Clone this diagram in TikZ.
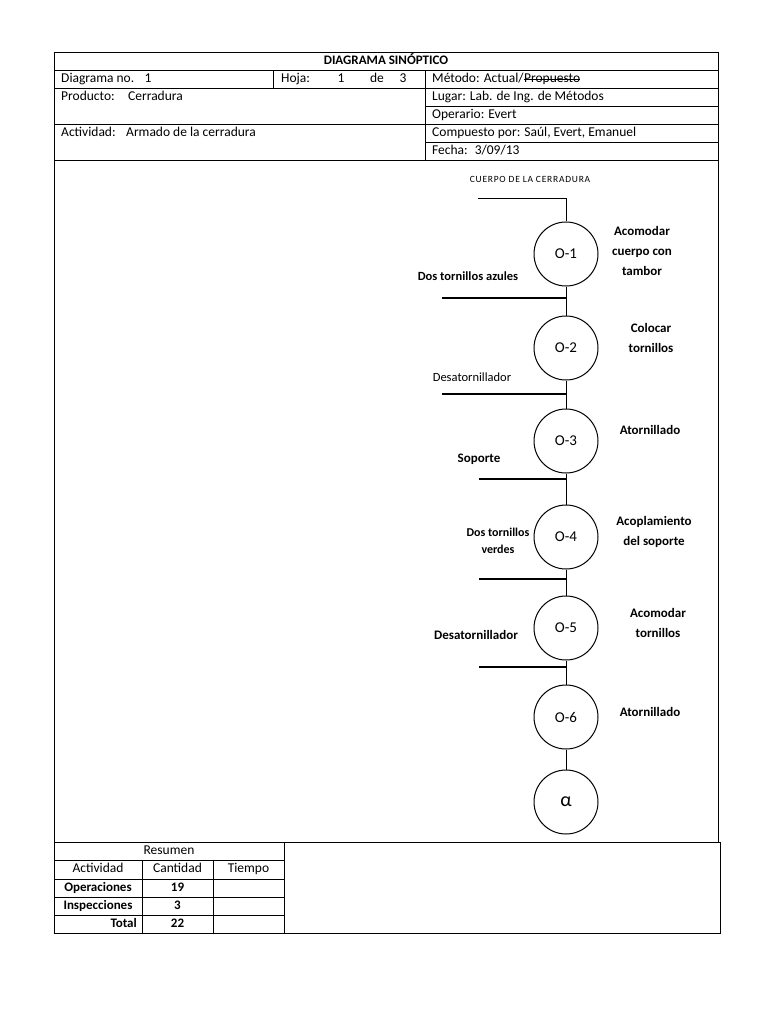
\documentclass[tikz,border=0pt]{standalone}
\usepackage{fontspec}
\setmainfont{Carlito}
\newfontfamily\spacedcaps[LetterSpace=8]{Carlito}
\usetikzlibrary{positioning}

\begin{document}
\begin{tikzpicture}[
    x=1pt, y=-1pt,
    node distance=28pt,
    frame/.style={draw=black, line width=1pt},
    cell/.style={anchor=west, inner sep=0pt, text height=9pt, text depth=3pt, font=\fontsize{13.5}{15}\selectfont},
    celltxt/.style={inner sep=0pt, text height=9pt, text depth=3pt, font=\fontsize{13.5}{15}\selectfont},
    oper/.style={circle, draw=black, line width=1pt, minimum size=64pt, inner sep=0pt, font=\fontsize{15}{17}\selectfont},
    flowtext/.style={align=center, inner sep=0pt, font=\bfseries\fontsize{13}{20}\selectfont},
    parttext/.style={align=center, inner sep=0pt, font=\fontsize{12.5}{17}\selectfont},
    link/.style={line width=0.9pt},
    feed/.style={line width=2.2pt}
]
\useasboundingbox (0,0) rectangle (768,1024);

% Header table
\draw[frame] (54,53) rectangle (718,842);
\draw[frame] (54,70.7) -- (718,70.7);
\draw[frame] (54,88.7) -- (718,88.7);
\draw[frame] (425.7,107) -- (718,107);
\draw[frame] (54,125) -- (718,125);
\draw[frame] (425.7,143) -- (718,143);
\draw[frame] (54,160.7) -- (718,160.7);
\draw[frame] (273,70.7) -- (273,88.7);
\draw[frame] (425.7,70.7) -- (425.7,160.7);

\node[celltxt, font=\bfseries\fontsize{13}{15}\selectfont] (title) at (386,62) {DIAGRAMA SINÓPTICO};
\node[cell] (diagno) at (61,79.7) {Diagrama no.};
\node[celltxt] (diagnum) at (148,79.7) {1};
\node[cell] (hoja) at (281,79.7) {Hoja:};
\node[celltxt] (hojanum) at (341,79.7) {1};
\node[celltxt] (hojade) at (377,79.7) {de};
\node[celltxt] (hojatot) at (403,79.7) {3};
\node[cell] (metodo) at (432,79.7) {Método: Actual/};
\node[cell, right=0pt of metodo] (propuesto) {Propuesto};
\draw[line width=0.8pt] (propuesto.west) -- (propuesto.east);
\node[cell] (producto) at (61,98) {Producto:};
\node[cell] (productoval) at (128,98) {Cerradura};
\node[cell] (lugar) at (432,98) {Lugar: Lab. de Ing. de Métodos};
\node[cell] (operario) at (432,116) {Operario: Evert};
\node[cell] (actividad) at (61,134) {Actividad:};
\node[cell] (actividadval) at (126,134) {Armado de la cerradura};
\node[cell] (compuesto) at (432,134) {Compuesto por: Saúl, Evert, Emanuel};
\node[cell] (fecha) at (432,152) {Fecha:\hspace{7pt}3/09/13};

% Operations
\node[font=\spacedcaps\fontsize{9.5}{11}\selectfont, inner sep=0pt] (cuerpo) at (530,179) {CUERPO DE LA CERRADURA};
\node[oper] (o1) at (566,254) {O-1};
\node[oper, below=29pt of o1] (o2) {O-2};
\node[oper, below=28pt of o2] (o3) {O-3};
\node[oper, below=31pt of o3] (o4) {O-4};
\node[oper, below=26pt of o4] (o5) {O-5};
\node[oper, below=24pt of o5] (o6) {O-6};
\node[oper, below=20pt of o6, font=\fontsize{20}{22}\selectfont] (alfa) {α};

\node[flowtext] (t1) at (642,251) {Acomodar\\cuerpo con\\tambor};
\node[flowtext] (t2) at (651,338) {Colocar\\tornillos};
\node[flowtext] (t3) at (650,430) {Atornillado};
\node[flowtext] (t4) at (654,532) {Acoplamiento\\del soporte};
\node[flowtext] (t5) at (658,623) {Acomodar\\tornillos};
\node[flowtext] (t6) at (650,712) {Atornillado};

% Parts fed in
\node[flowtext, font=\bfseries\fontsize{12.5}{20}\selectfont] (p1) at (468,276) {Dos tornillos azules};
\node[parttext] (p2) at (472,377) {Desatornillador};
\node[flowtext] (p3) at (479,459) {Soporte};
\node[parttext, font=\bfseries\fontsize{12}{17}\selectfont] (p4) at (498,541) {Dos tornillos\\verdes};
\node[flowtext] (p5) at (476,635) {Desatornillador};

\coordinate (start) at (478,198);
\coordinate (f1) at (442,298);
\coordinate (f2) at (442,394);
\coordinate (f3) at (479,479);
\coordinate (f4) at (479,579);
\coordinate (f5) at (479,667);

% Lines
\draw[link] (start) -| (o1.north);
\draw[link] (o1) -- (o2);
\draw[link] (o2) -- (o3);
\draw[link] (o3) -- (o4);
\draw[link] (o4) -- (o5);
\draw[link] (o5) -- (o6);
\draw[link] (o6) -- (alfa);
\draw[feed] (f1) -- (f1 -| o1);
\draw[feed] (f2) -- (f2 -| o2);
\draw[feed] (f3) -- (f3 -| o3);
\draw[feed] (f4) -- (f4 -| o4);
\draw[feed] (f5) -- (f5 -| o5);

% Summary table
\draw[frame] (54,842) rectangle (720,933);
\draw[frame] (54,860) -- (284,860);
\draw[frame] (54,879) -- (284,879);
\draw[frame] (54,897) -- (284,897);
\draw[frame] (54,915) -- (284,915);
\draw[frame] (142,860) -- (142,933);
\draw[frame] (213,860) -- (213,933);
\draw[frame] (284,842) -- (284,933);

\node[celltxt] (resumen) at (169,851) {Resumen};
\node[celltxt] (colact) at (98,869.5) {Actividad};
\node[celltxt] (colcant) at (177.5,869.5) {Cantidad};
\node[celltxt] (coltiempo) at (248.5,869.5) {Tiempo};
\node[celltxt, font=\bfseries\fontsize{13}{15}\selectfont] (oper) at (98,888) {Operaciones};
\node[celltxt, font=\bfseries\fontsize{13}{15}\selectfont] (opernum) at (177.5,888) {19};
\node[celltxt, font=\bfseries\fontsize{13}{15}\selectfont] (insp) at (98,906) {Inspecciones};
\node[celltxt, font=\bfseries\fontsize{13}{15}\selectfont] (inspnum) at (177.5,906) {3};
\node[celltxt, anchor=east, font=\bfseries\fontsize{13}{15}\selectfont] (total) at (137,924) {Total};
\node[celltxt, font=\bfseries\fontsize{13}{15}\selectfont] (totalnum) at (177.5,924) {22};
\end{tikzpicture}
\end{document}
